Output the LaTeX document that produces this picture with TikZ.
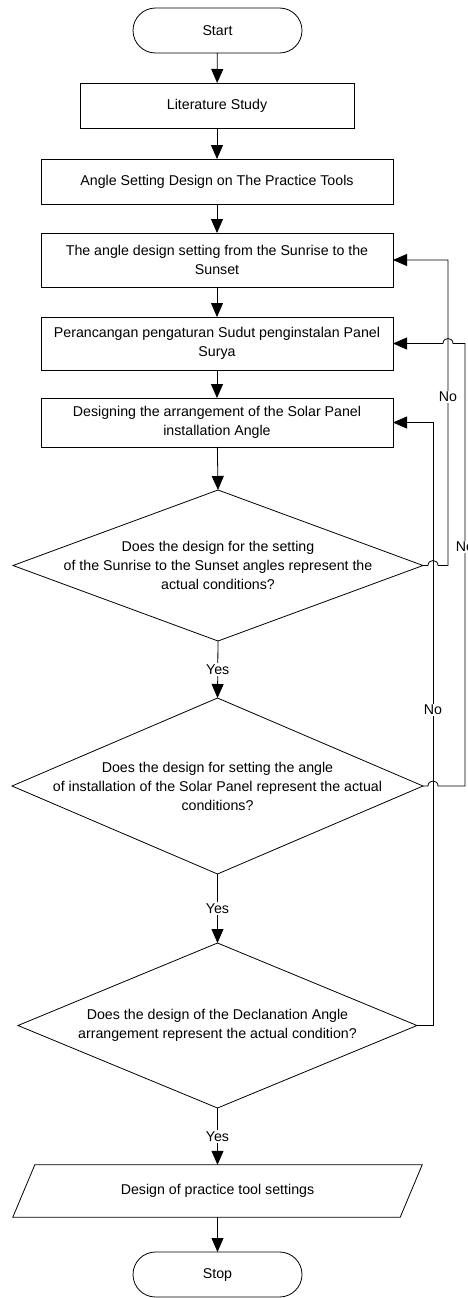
\documentclass[tikz,border=0pt]{standalone}
\usepackage{fontspec}
\setmainfont{Liberation Sans}
\usetikzlibrary{arrows.meta,shapes.geometric,calc}
\begin{document}
\begin{tikzpicture}[x=1pt,y=-1pt,
  base/.style={draw=black,line width=0.8pt,inner sep=0pt,outer sep=0pt,align=center,font=\fontsize{14.2}{19}\selectfont},
  term/.style={base,rectangle,rounded corners=22.5pt,minimum width=169pt,minimum height=45pt},
  proc/.style={base,rectangle,minimum height=45pt},
  decision/.style={base,diamond},
  txt/.style={inner sep=0pt,align=center,font=\fontsize{14.2}{19}\selectfont},
  lab/.style={fill=white,inner sep=1.5pt,font=\fontsize{14.2}{17}\selectfont},
  flow/.style={draw=black,line width=0.8pt,-{Triangle[length=14pt,width=12pt]}},
]
\clip (0,0) rectangle (468,1298);
% nodes
\node[term] (start) at (217.5,30.5) {Start};
\node[proc,minimum width=274pt] (lit) at (217,105.5) {Literature Study};
\node[proc,minimum width=352pt] (asd) at (217,181.5) {Angle Setting Design on The Practice Tools};
\node[proc,minimum width=352pt,minimum height=54pt] (b3) at (217,260) {The angle design setting from the Sunrise to the\\Sunset};
\node[proc,minimum width=352pt,minimum height=53pt] (b4) at (217,343.5) {Perancangan pengaturan Sudut penginstalan Panel\\Surya};
\node[proc,minimum width=352pt,minimum height=49pt] (b5) at (217,422.5) {Designing the arrangement of the Solar Panel\\installation Angle};
\node[decision,minimum width=410pt,minimum height=151pt] (d1) at (218,565.5) {};
\node[txt] (d1t) at (d1.center) {Does the design for the setting\\of the Sunrise to the Sunset angles represent the\\actual conditions?};
\node[decision,minimum width=411pt,minimum height=176pt] (d2) at (217.5,786) {};
\node[txt] (d2t) at (d2.center) {Does the design for setting the angle\\of installation of the Solar Panel represent the actual\\conditions?};
\node[decision,minimum width=399pt,minimum height=165pt] (d3) at (217.5,1025.5) {};
\node[txt] (d3t) at (d3.center) {Does the design of the Declanation Angle\\arrangement represent the actual condition?};
\node[txt,minimum width=409pt,minimum height=52pt] (para) at (217.5,1191) {Design of practice tool settings};
\draw[line width=0.8pt] (para.south west) -- ([xshift=22pt]para.north west) -- (para.north east) -- ([xshift=-22pt]para.south east) -- cycle;
\node[term] (stop) at (217.5,1274.5) {Stop};
% feedback columns
\coordinate (x1) at (448,0);
\coordinate (x2) at (465,0);
\coordinate (x3) at (433,0);
% main flow
\draw[flow] (start) -- (lit);
\draw[flow] (lit) -- (asd);
\draw[flow] (asd) -- (b3);
\draw[flow] (b3) -- (b4);
\draw[flow] (b4) -- (b5);
\draw[flow] (b5) -- (d1.north);
\draw[flow] (d1.south) -- node[lab] (y1) {Yes} (d2.north);
\draw[flow] (d2.south) -- node[lab] (y2) {Yes} (d3.north);
\draw[flow] (d3.south) -- node[lab] (y3) {Yes} (para.north);
\draw[flow] (para.south) -- (stop);
% feedback 1
\coordinate (j1a) at ($(d1.east -| x3)+(-5,0)$);
\coordinate (j1b) at ($(d1.east -| x3)+(5,0)$);
\draw[flow] (d1.east) -- (j1a) .. controls ($(j1a)+(0,-6.67)$) and ($(j1b)+(0,-6.67)$) .. (j1b) -- (d1.east -| x1) |- (b3.east);
% feedback 2
\coordinate (j2a) at ($(d2.east -| x3)+(-5,0)$);
\coordinate (j2b) at ($(d2.east -| x3)+(5,0)$);
\coordinate (j3a) at ($(b4.east -| x1)+(5,0)$);
\coordinate (j3b) at ($(b4.east -| x1)+(-5,0)$);
\draw[flow] (d2.east) -- (j2a) .. controls ($(j2a)+(0,-6.67)$) and ($(j2b)+(0,-6.67)$) .. (j2b) -- (d2.east -| x2) -- (b4.east -| x2) -- (j3a) .. controls ($(j3a)+(0,-6.67)$) and ($(j3b)+(0,-6.67)$) .. (j3b) -- (b4.east);
% feedback 3
\draw[flow] (d3.east) -- (d3.east -| x3) |- (b5.east);
% labels
\node[lab] (no1) at (448,397) {No};
\node[lab] (no2) at (465,547) {No};
\node[lab] (no3) at (433,710) {No};
\end{tikzpicture}
\end{document}
